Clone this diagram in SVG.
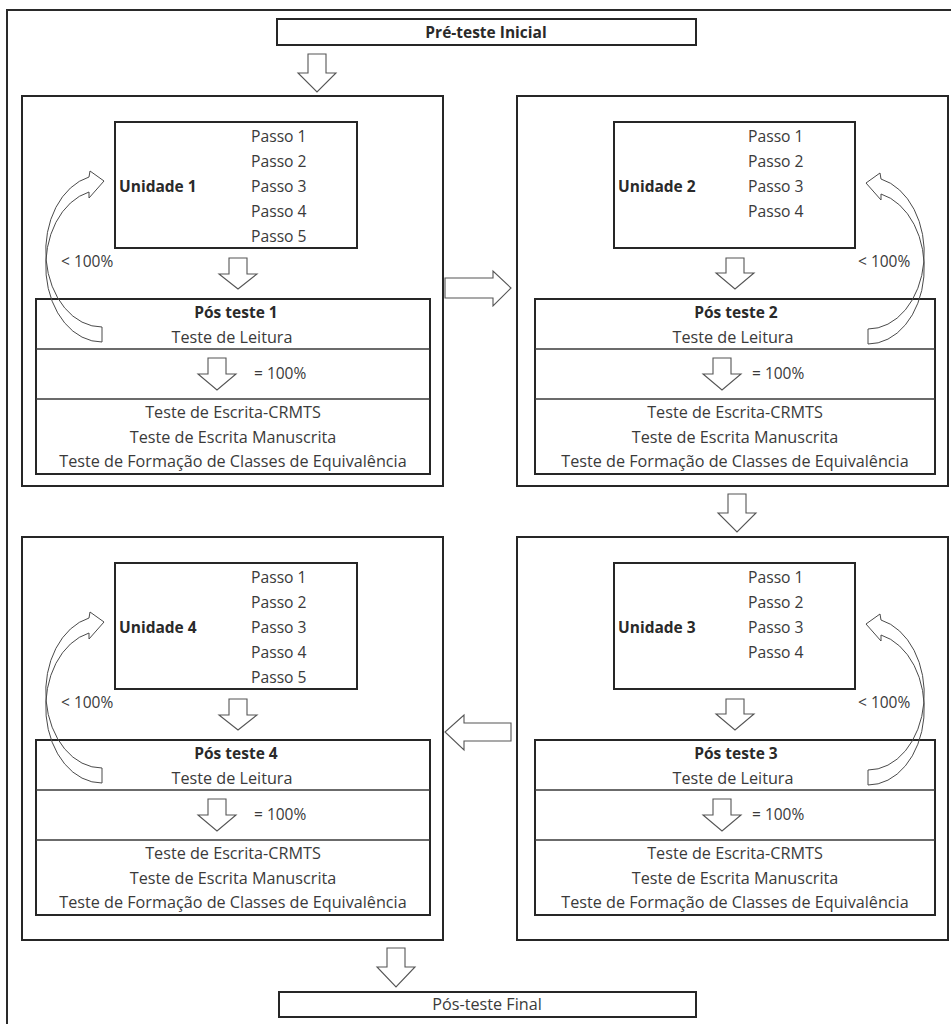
<svg xmlns="http://www.w3.org/2000/svg" xmlns:xlink="http://www.w3.org/1999/xlink" width="951" height="1024" viewBox="0 0 951 1024">
<style>
  .frame{fill:none;stroke:#2a2a2a;stroke-width:2}
  .box{fill:none;stroke:#262626;stroke-width:2}
  .div{stroke:#3a3a3a;stroke-width:1.3}
  .blk{fill:#ffffff;stroke:#555555;stroke-width:1.1;stroke-linejoin:miter}
  .curve{fill:none;stroke:#4a4a4a;stroke-width:1}
  text{font-family:"Open Sans","Noto Sans","Liberation Sans",sans-serif;font-size:16.2px;fill:#3a3a3a}
  .p{font-size:15.7px}
  .pc{font-size:15.5px}
  .b{font-weight:bold;fill:#2a2a2a;font-size:15.5px}
  .c{text-anchor:middle}
</style>
<defs>
  <path id="curv" class="curve" d="M 102,342 A 56 76 0 0 1 89,192 L 89,198 L 104,181 L 90,171 L 89,177 A 56 76 0 0 0 102,327 Z"/>
</defs>
<rect width="951" height="1024" fill="#ffffff"/>
<path class="frame" d="M 7,1024 V 10 H 951"/>

<g id="pre-teste">
  <rect class="box" x="277" y="19" width="419" height="26"/>
  <text class="b c" x="486" y="38">Pré-teste Inicial</text>
</g>

<g id="unidade1">
  <rect class="box" x="22" y="96" width="421" height="390"/>
  <rect class="box" x="115" y="122" width="242" height="126"/>
  <text class="b" x="119" y="192">Unidade 1</text>
  <text class="p" x="251" y="142">Passo 1</text>
  <text class="p" x="251" y="167">Passo 2</text>
  <text class="p" x="251" y="192">Passo 3</text>
  <text class="p" x="251" y="217">Passo 4</text>
  <text class="p" x="251" y="242">Passo 5</text>
  <text class="pc" x="61" y="267">&lt; 100%</text>
  <rect class="box" x="36" y="299" width="394" height="175"/>
  <line class="div" x1="36" y1="349" x2="430" y2="349"/>
  <line class="div" x1="36" y1="399" x2="430" y2="399"/>
  <text class="b c" x="236" y="318">Pós teste 1</text>
  <text class="c" x="232" y="343">Teste de Leitura</text>
  <text class="pc" x="254" y="379">= 100%</text>
  <text class="c" x="233" y="418">Teste de Escrita-CRMTS</text>
  <text class="c" x="233" y="443">Teste de Escrita Manuscrita</text>
  <text class="c" x="233" y="467">Teste de Formação de Classes de Equivalência</text>
</g>

<g id="unidade2">
  <rect class="box" x="517" y="96" width="431" height="390"/>
  <rect class="box" x="614" y="122" width="241" height="126"/>
  <text class="b" x="618" y="192">Unidade 2</text>
  <text class="p" x="748" y="142">Passo 1</text>
  <text class="p" x="748" y="167">Passo 2</text>
  <text class="p" x="748" y="192">Passo 3</text>
  <text class="p" x="748" y="217">Passo 4</text>
  <text class="pc" x="858" y="267">&lt; 100%</text>
  <rect class="box" x="535" y="299" width="400" height="175"/>
  <line class="div" x1="535" y1="349" x2="935" y2="349"/>
  <line class="div" x1="535" y1="399" x2="935" y2="399"/>
  <text class="b c" x="736" y="318">Pós teste 2</text>
  <text class="c" x="733" y="343">Teste de Leitura</text>
  <text class="pc" x="752" y="379">= 100%</text>
  <text class="c" x="735" y="418">Teste de Escrita-CRMTS</text>
  <text class="c" x="735" y="443">Teste de Escrita Manuscrita</text>
  <text class="c" x="735" y="467">Teste de Formação de Classes de Equivalência</text>
</g>

<g id="unidade3">
  <rect class="box" x="517" y="537" width="431" height="403"/>
  <rect class="box" x="614" y="563" width="241" height="126"/>
  <text class="b" x="618" y="633">Unidade 3</text>
  <text class="p" x="748" y="583">Passo 1</text>
  <text class="p" x="748" y="608">Passo 2</text>
  <text class="p" x="748" y="633">Passo 3</text>
  <text class="p" x="748" y="658">Passo 4</text>
  <text class="pc" x="858" y="708">&lt; 100%</text>
  <rect class="box" x="535" y="740" width="400" height="175"/>
  <line class="div" x1="535" y1="790" x2="935" y2="790"/>
  <line class="div" x1="535" y1="840" x2="935" y2="840"/>
  <text class="b c" x="736" y="759">Pós teste 3</text>
  <text class="c" x="733" y="784">Teste de Leitura</text>
  <text class="pc" x="752" y="820">= 100%</text>
  <text class="c" x="735" y="859">Teste de Escrita-CRMTS</text>
  <text class="c" x="735" y="884">Teste de Escrita Manuscrita</text>
  <text class="c" x="735" y="908">Teste de Formação de Classes de Equivalência</text>
</g>

<g id="unidade4">
  <rect class="box" x="22" y="537" width="421" height="403"/>
  <rect class="box" x="115" y="563" width="242" height="126"/>
  <text class="b" x="119" y="633">Unidade 4</text>
  <text class="p" x="251" y="583">Passo 1</text>
  <text class="p" x="251" y="608">Passo 2</text>
  <text class="p" x="251" y="633">Passo 3</text>
  <text class="p" x="251" y="658">Passo 4</text>
  <text class="p" x="251" y="683">Passo 5</text>
  <text class="pc" x="61" y="708">&lt; 100%</text>
  <rect class="box" x="36" y="740" width="394" height="175"/>
  <line class="div" x1="36" y1="790" x2="430" y2="790"/>
  <line class="div" x1="36" y1="840" x2="430" y2="840"/>
  <text class="b c" x="236" y="759">Pós teste 4</text>
  <text class="c" x="232" y="784">Teste de Leitura</text>
  <text class="pc" x="254" y="820">= 100%</text>
  <text class="c" x="233" y="859">Teste de Escrita-CRMTS</text>
  <text class="c" x="233" y="884">Teste de Escrita Manuscrita</text>
  <text class="c" x="233" y="908">Teste de Formação de Classes de Equivalência</text>
</g>

<g id="pos-teste-final">
  <rect class="box" x="279" y="992" width="417" height="25"/>
  <text class="c" x="487" y="1010">Pós-teste Final</text>
</g>

<g id="connectors">
  <polygon class="blk" points="308,54 326,54 326,73 336,73 317,92 298,73 308,73"/>
  <polygon class="blk" points="229,258 247,258 247,274 257,274 238,289 219,274 229,274"/>
  <polygon class="blk" points="208,358 226,358 226,374 236,374 217,390 198,374 208,374"/>
  <polygon class="blk" points="726,258 744,258 744,273 754,273 735,289 716,273 726,273"/>
  <polygon class="blk" points="713,358 731,358 731,374 741,374 722,390 703,374 713,374"/>
  <polygon class="blk" points="728,494 746,494 746,513 756,513 737,532 718,513 728,513"/>
  <polygon class="blk" points="726,699 744,699 744,714 754,714 735,730 716,714 726,714"/>
  <polygon class="blk" points="713,799 731,799 731,815 741,815 722,831 703,815 713,815"/>
  <polygon class="blk" points="229,699 247,699 247,715 257,715 238,730 219,715 229,715"/>
  <polygon class="blk" points="208,799 226,799 226,815 236,815 217,831 198,815 208,815"/>
  <polygon class="blk" points="387,948 405,948 405,967 415,967 396,987 377,967 387,967"/>
  <polygon class="blk" points="445,278 493,278 493,271 511,288 493,306 493,298 445,298"/>
  <polygon class="blk" points="511,723 464,723 464,715 445,732 464,750 464,741 511,741"/>
  <use xlink:href="#curv"/>
  <use xlink:href="#curv" transform="translate(970,2) scale(-1,1)"/>
  <use xlink:href="#curv" transform="translate(970,443) scale(-1,1)"/>
  <use xlink:href="#curv" transform="translate(0,441)"/>
</g>
</svg>
